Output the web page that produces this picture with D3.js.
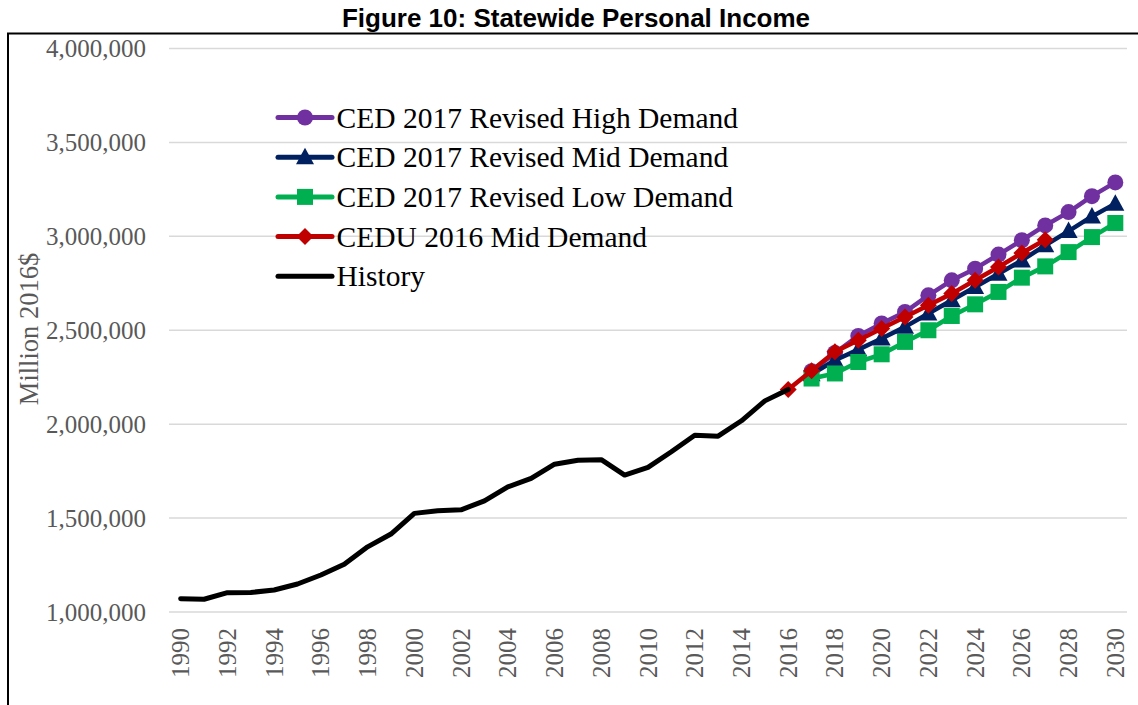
<!DOCTYPE html>
<html>
<head>
<meta charset="utf-8">
<script src="https://cdn.jsdelivr.net/npm/d3@7"></script>
<style>
  body { margin: 0; background: #fff; }
  svg { display: block; }
</style>
</head>
<body>
<div id="chart"></div>
<script>
// ------------------------------------------------------------
// Data (in million 2016$)
// ------------------------------------------------------------
const years = d3.range(1990, 2031);

const historyYears = d3.range(1990, 2017);
const historyValues = [
  1071000, 1068000, 1103000, 1104000, 1117000, 1149000, 1197000, 1254000,
  1347000, 1415000, 1525000, 1539000, 1544000, 1592000, 1666000, 1711000,
  1787000, 1808000, 1811000, 1729000, 1770000, 1853000, 1941000, 1936000,
  2018000, 2124000, 2185000
];

const forecastYears = d3.range(2017, 2031);
const highValues = [
  2282000, 2379000, 2470000, 2536000, 2597000, 2686000, 2766000,
  2828000, 2903000, 2979000, 3058000, 3129000, 3214000, 3287000
];
const midValues = [
  2266000, 2340000, 2397000, 2456000, 2518000, 2589000, 2660000,
  2730000, 2801000, 2872000, 2952000, 3028000, 3106000, 3174000
];
const lowValues = [
  2243000, 2270000, 2331000, 2372000, 2438000, 2500000, 2576000,
  2638000, 2704000, 2780000, 2840000, 2916000, 2996000, 3071000
];

const ceduYears = d3.range(2016, 2028);
const ceduValues = [
  2185000, 2284000, 2385000, 2447000, 2509000, 2571000, 2633000,
  2695000, 2766000, 2837000, 2911000, 2982000
];

const yTicks = [1000000, 1500000, 2000000, 2500000, 3000000, 3500000, 4000000];

const seriesNames = [
  "CED 2017 Revised High Demand",
  "CED 2017 Revised Mid Demand",
  "CED 2017 Revised Low Demand",
  "CEDU 2016 Mid Demand",
  "History"
];

// ------------------------------------------------------------
// Setup
// ------------------------------------------------------------
const width = 1138;
const height = 705;
const serif = "'Liberation Serif', 'Times New Roman', serif";
const grey = "#595959";

const series = [
  { name: seriesNames[0], years: forecastYears, values: highValues, color: "#7030A0", marker: "circle" },
  { name: seriesNames[1], years: forecastYears, values: midValues,  color: "#002060", marker: "triangle" },
  { name: seriesNames[2], years: forecastYears, values: lowValues,  color: "#00B050", marker: "square" },
  { name: seriesNames[3], years: ceduYears,     values: ceduValues, color: "#C00000", marker: "diamond" },
  { name: seriesNames[4], years: historyYears,  values: historyValues, color: "#000000", marker: null }
];

const svg = d3.select("#chart").append("svg")
  .attr("width", width)
  .attr("height", height);

const x = d3.scalePoint()
  .domain(years)
  .range([169, 1127])
  .padding(0.5);

const y = d3.scaleLinear()
  .domain([1000000, 4000000])
  .range([612, 48.5]);

// frame and title
svg.append("rect")
  .attr("x", 8).attr("y", 33.5)
  .attr("width", 1300).attr("height", 900)
  .attr("fill", "none")
  .attr("stroke", "#000")
  .attr("stroke-width", 2);

svg.append("text")
  .attr("x", 576)
  .attr("y", 27)
  .attr("text-anchor", "middle")
  .style("font-family", "'Liberation Sans', Arial, sans-serif")
  .style("font-weight", "bold")
  .style("font-size", "26px")
  .text("Figure 10: Statewide Personal Income");

// gridlines
svg.append("g")
  .selectAll("line")
  .data(yTicks)
  .enter()
  .append("line")
  .attr("x1", 169).attr("x2", 1127)
  .attr("y1", d => y(d)).attr("y2", d => y(d))
  .attr("stroke", "#d9d9d9")
  .attr("stroke-width", 1.5);

// y axis labels
const fmt = d3.format(",");
svg.append("g")
  .selectAll("text")
  .data(yTicks)
  .enter()
  .append("text")
  .attr("x", 146)
  .attr("y", d => y(d) + 8.5)
  .attr("text-anchor", "end")
  .style("font-family", serif)
  .style("font-size", "25px")
  .style("fill", grey)
  .text(d => fmt(d));

// x axis labels (rotated)
svg.append("g")
  .selectAll("text")
  .data(years.filter(d => d % 2 === 0))
  .enter()
  .append("text")
  .attr("transform", d => `translate(${x(d) + 8.5},628) rotate(-90)`)
  .attr("text-anchor", "end")
  .style("font-family", serif)
  .style("font-size", "25px")
  .style("fill", grey)
  .text(d => d);

// y axis title
svg.append("text")
  .attr("transform", "translate(37.5,329) rotate(-90)")
  .attr("text-anchor", "middle")
  .style("font-family", serif)
  .style("font-size", "26.5px")
  .style("fill", grey)
  .text("Million 2016$");

// ------------------------------------------------------------
// Markers
// ------------------------------------------------------------
function drawMarker(g, type, color) {
  if (type === "circle") {
    g.append("circle").attr("r", 8).attr("fill", color);
  } else if (type === "square") {
    g.append("rect").attr("x", -8).attr("y", -8)
      .attr("width", 16).attr("height", 16).attr("fill", color);
  } else if (type === "triangle") {
    g.append("path").attr("d", "M0,-9.5L9,7L-9,7Z").attr("fill", color);
  } else if (type === "diamond") {
    g.append("path").attr("d", "M0,-8.5L8.5,0L0,8.5L-8.5,0Z").attr("fill", color);
  }
}

const line = d3.line()
  .x(d => x(d[0]))
  .y(d => y(d[1]));

series.forEach(s => {
  const pts = s.years.map((yr, i) => [yr, s.values[i]]);
  const g = svg.append("g");
  g.append("path")
    .datum(pts)
    .attr("d", line)
    .attr("fill", "none")
    .attr("stroke", s.color)
    .attr("stroke-width", s.marker ? 4.5 : 5)
    .attr("stroke-linejoin", "round")
    .attr("stroke-linecap", "round");
  if (s.marker) {
    pts.forEach(p => {
      const m = g.append("g").attr("transform", `translate(${x(p[0])},${y(p[1])})`);
      drawMarker(m, s.marker, s.color);
    });
  }
});

// ------------------------------------------------------------
// Legend
// ------------------------------------------------------------
const legend = svg.append("g");
series.forEach((s, i) => {
  const ly = 117.5 + i * 39.7;
  legend.append("line")
    .attr("x1", 278).attr("x2", 332)
    .attr("y1", ly).attr("y2", ly)
    .attr("stroke", s.color)
    .attr("stroke-width", 5)
    .attr("stroke-linecap", "round");
  if (s.marker) {
    const m = legend.append("g").attr("transform", `translate(305,${ly})`);
    drawMarker(m, s.marker, s.color);
  }
  legend.append("text")
    .attr("x", 336.5)
    .attr("y", ly + 10)
    .style("font-family", serif)
    .style("font-size", "29.5px")
    .style("fill", "#000")
    .text(s.name);
});
</script>
</body>
</html>
